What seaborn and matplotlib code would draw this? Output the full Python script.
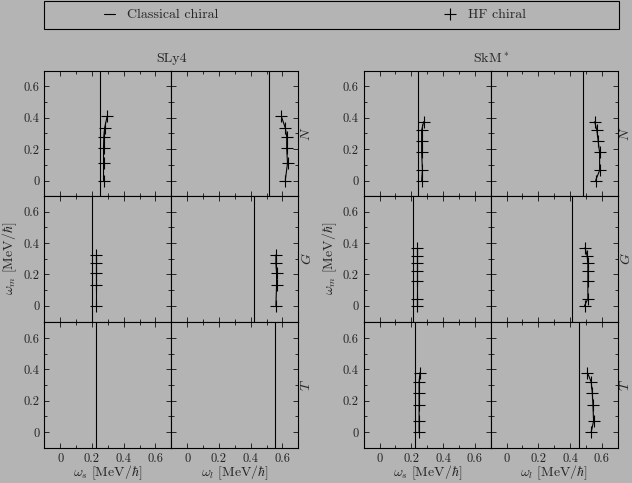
import numpy as np
import pandas as pd
import matplotlib
matplotlib.use("Agg")
import matplotlib.pyplot as plt
import seaborn as sns
from matplotlib.lines import Line2D
from matplotlib.patches import Rectangle
from matplotlib.ticker import MultipleLocator, FuncFormatter

# classical chiral frequencies, rows N, G, T
rows = ["N", "G", "T"]
sly4_ws_cl = [0.25, 0.20, 0.225]
sly4_wl_cl = [0.513, 0.423, 0.556]
skm_ws_cl = [0.245, 0.21, 0.22]
skm_wl_cl = [0.481, 0.41, 0.454]

# HF chiral points (omega_m, omega_s, omega_l)
sly4_N_wm = [0.0, 0.11, 0.205, 0.28, 0.335, 0.41]
sly4_N_ws = [0.273, 0.273, 0.273, 0.275, 0.28, 0.296]
sly4_N_wl = [0.618, 0.632, 0.627, 0.627, 0.618, 0.593]
sly4_G_wm = [0.0, 0.135, 0.21, 0.27, 0.325]
sly4_G_ws = [0.227, 0.227, 0.227, 0.227, 0.227]
sly4_G_wl = [0.559, 0.563, 0.563, 0.559, 0.559]
sly4_T_wm, sly4_T_ws, sly4_T_wl = [], [], []

skm_N_wm = [0.0, 0.065, 0.18, 0.25, 0.32, 0.375]
skm_N_ws = [0.265, 0.27, 0.265, 0.265, 0.265, 0.278]
skm_N_wl = [0.561, 0.586, 0.586, 0.577, 0.569, 0.555]
skm_G_wm = [0.0, 0.045, 0.16, 0.225, 0.275, 0.32, 0.37]
skm_G_ws = [0.234, 0.234, 0.234, 0.234, 0.234, 0.234, 0.234]
skm_G_wl = [0.491, 0.512, 0.512, 0.512, 0.512, 0.507, 0.494]
skm_T_wm = [0.0, 0.07, 0.175, 0.25, 0.32, 0.38]
skm_T_ws = [0.249, 0.249, 0.249, 0.249, 0.249, 0.255]
skm_T_wl = [0.533, 0.548, 0.544, 0.54, 0.533, 0.509]

forces = {
    "SLy4": dict(ws_cl=sly4_ws_cl, wl_cl=sly4_wl_cl,
                 hf=[(sly4_N_wm, sly4_N_ws, sly4_N_wl),
                     (sly4_G_wm, sly4_G_ws, sly4_G_wl),
                     (sly4_T_wm, sly4_T_ws, sly4_T_wl)]),
    "SkM$^*$": dict(ws_cl=skm_ws_cl, wl_cl=skm_wl_cl,
                    hf=[(skm_N_wm, skm_N_ws, skm_N_wl),
                        (skm_G_wm, skm_G_ws, skm_G_wl),
                        (skm_T_wm, skm_T_ws, skm_T_wl)]),
}

bg = "#b4b4b4"
sns.set_style("ticks")
plt.rcParams.update({
    "figure.facecolor": bg, "axes.facecolor": bg, "savefig.facecolor": bg,
    "axes.edgecolor": "black", "axes.linewidth": 0.8,
    "xtick.direction": "in", "ytick.direction": "in",
    "xtick.top": True, "ytick.right": True,
    "xtick.major.size": 3.6, "ytick.major.size": 3.6,
    "xtick.minor.size": 2.0, "ytick.minor.size": 2.0,
    "xtick.major.width": 0.7, "ytick.major.width": 0.7,
    "xtick.minor.width": 0.7, "ytick.minor.width": 0.7,
    "xtick.labelsize": 9, "ytick.labelsize": 9,
    "mathtext.fontset": "cm",
    "axes.formatter.use_mathtext": True,
})
plt.rcParams["font.family"] = ["cmr10", "DejaVu Serif"]

W, H = 632, 483
fig = plt.figure(figsize=(W / 100, H / 100), dpi=100)

group_x = [44.3, 363.7]
pw = 127.0
row_top = [70.7, 196.0, 322.3]
ph = 125.5
fmt = FuncFormatter(lambda v, p: f"{round(v, 2):g}")

for g, (name, d) in enumerate(forces.items()):
    x0 = group_x[g]
    for r in range(3):
        wm, ws, wl = d["hf"][r]
        for c in range(2):
            ax = fig.add_axes([(x0 + c * pw) / W, (H - row_top[r] - ph) / H, pw / W, ph / H])
            cl = d["ws_cl"][r] if c == 0 else d["wl_cl"][r]
            ax.axvline(cl, color="black", lw=0.8)
            if len(wm):
                df = pd.DataFrame({"w": ws if c == 0 else wl, "wm": wm})
                sns.lineplot(data=df, x="w", y="wm", sort=False, estimator=None,
                             color="black", lw=0.8, marker="+", markersize=8,
                             markeredgewidth=0.8, markeredgecolor="black", ax=ax)
            ax.set_xlim(-0.1, 0.7)
            ax.set_ylim(-0.1, 0.7)
            for axis in (ax.xaxis, ax.yaxis):
                axis.set_major_locator(MultipleLocator(0.2))
                axis.set_minor_locator(MultipleLocator(0.1))
                axis.set_major_formatter(fmt)
            ax.tick_params(which="both", top=True, right=True)
            ax.set_xlabel("")
            ax.set_ylabel("")
            if r < 2:
                ax.tick_params(labelbottom=False)
            else:
                lab = r"$\omega_s\ [\mathrm{MeV}/\hbar]$" if c == 0 else r"$\omega_l\ [\mathrm{MeV}/\hbar]$"
                ax.set_xlabel(lab, fontsize=10, labelpad=-1)
            if c == 1:
                ax.tick_params(labelleft=False)
                ax.yaxis.set_label_position("right")
                ax.set_ylabel(f"${rows[r]}$", fontsize=10, rotation=90, labelpad=1)
            elif r == 1:
                ax.set_ylabel(r"$\omega_m\ [\mathrm{MeV}/\hbar]$", fontsize=10, labelpad=3)
    fig.text((x0 + pw) / W, (H - 59) / H, name, ha="center", va="center", fontsize=10)

# legend box on top
fig.patches.append(Rectangle((44.3 / W, (H - 29.3) / H), 575 / W, 28.5 / H,
                             transform=fig.transFigure, fill=False, lw=0.8,
                             edgecolor="black"))
handles = [Line2D([], [], color="black", lw=0.8),
           Line2D([], [], ls="none", marker="+", markersize=8,
                  markeredgewidth=0.8, color="black")]
fig.legend(handles, ["Classical chiral", "HF chiral"], ncol=2, loc="center",
           bbox_to_anchor=(315 / W, (H - 15) / H), frameon=False, fontsize=10,
           handlelength=0.8, handletextpad=0.85, columnspacing=16.3)

fig.savefig("out.png", dpi=100)
